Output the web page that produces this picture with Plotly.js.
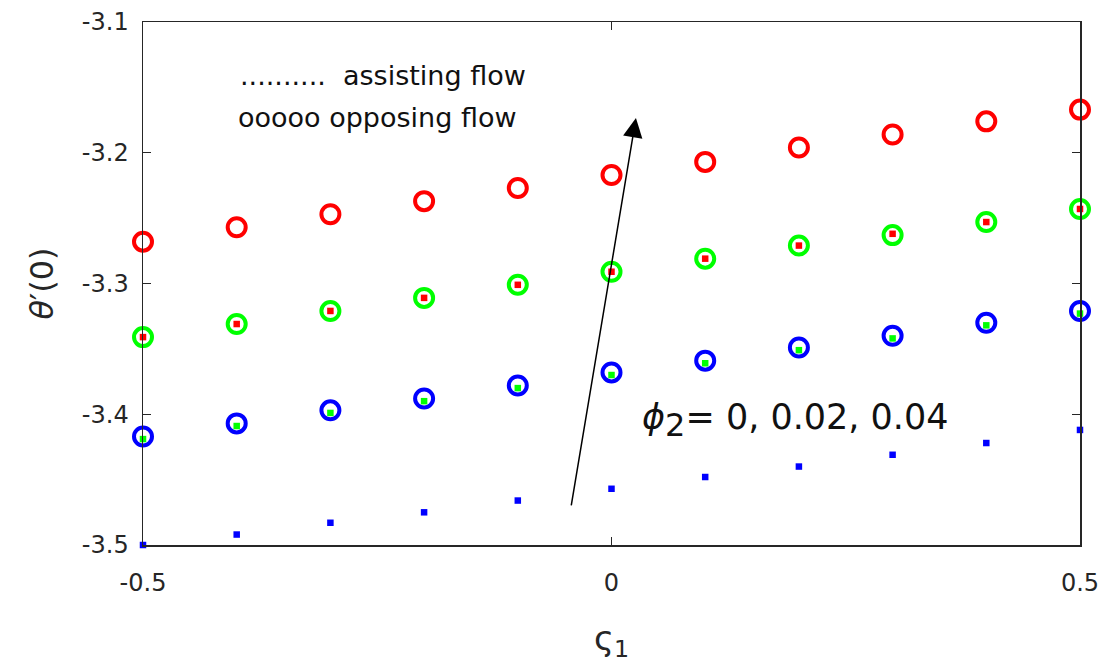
<!DOCTYPE html>
<html>
<head>
<meta charset="utf-8">
<script src="https://cdn.plot.ly/plotly-3.0.1.min.js"></script>
<style>html,body{margin:0;padding:0;background:#fff;}</style>
</head>
<body>
<div id="chart" style="width:1109px;height:668px;"></div>
<script>
// varsigma_1 values
const xVals = [-0.5, -0.4, -0.3, -0.2, -0.1, 0, 0.1, 0.2, 0.3, 0.4, 0.5];

// Opposing flow (circles)
const opposingRed   = [-3.268, -3.257, -3.247, -3.237, -3.227, -3.217, -3.207, -3.196, -3.186, -3.176, -3.167];
const opposingGreen = [-3.341, -3.331, -3.321, -3.311, -3.301, -3.291, -3.281, -3.271, -3.263, -3.253, -3.243];
const opposingBlue  = [-3.417, -3.407, -3.397, -3.388, -3.378, -3.368, -3.359, -3.349, -3.340, -3.330, -3.321];

// Assisting flow (dots)
const assistingRed   = [-3.341, -3.331, -3.321, -3.311, -3.301, -3.291, -3.281, -3.271, -3.262, -3.253, -3.243];
const assistingGreen = [-3.419, -3.409, -3.399, -3.390, -3.380, -3.370, -3.361, -3.351, -3.342, -3.332, -3.323];
const assistingBlue  = [-3.500, -3.492, -3.483, -3.475, -3.466, -3.457, -3.448, -3.440, -3.431, -3.422, -3.412];

const yTickVals = [-3.5, -3.4, -3.3, -3.2, -3.1];
const yTickText = ['-3.5', '-3.4', '-3.3', '-3.2', '-3.1'];
const xTickVals = [-0.5, 0, 0.5];
const xTickText = ['-0.5', '0', '0.5'];

const FONT = 'DejaVu Sans, Arial, sans-serif';

function circles(y, color) {
  return {x: xVals, y: y, mode: 'markers', type: 'scatter', cliponaxis: false, showlegend: false,
    marker: {symbol: 'circle-open', size: 18, color: color, line: {width: 4, color: color}}};
}
function dots(y, color) {
  return {x: xVals, y: y, mode: 'markers', type: 'scatter', cliponaxis: false, showlegend: false,
    marker: {symbol: 'square', size: 6.5, color: color, line: {width: 0}}};
}

const data = [
  circles(opposingBlue, '#0000ff'),
  circles(opposingGreen, '#00ff00'),
  circles(opposingRed, '#ff0000'),
  dots(assistingBlue, '#0000ff'),
  dots(assistingGreen, '#00ff00'),
  dots(assistingRed, '#ff0000')
];

const axisCommon = {
  showgrid: false, zeroline: false, showline: true, linecolor: '#262626', linewidth: 1.5,
  mirror: 'ticks', ticks: 'inside', ticklen: 8, tickwidth: 1.2, tickcolor: '#262626',
  tickfont: {family: FONT, size: 24, color: '#262626'}
};

const layout = {
  width: 1109, height: 668,
  margin: {l: 143, r: 29, t: 22, b: 123},
  paper_bgcolor: '#ffffff', plot_bgcolor: '#ffffff',
  xaxis: Object.assign({}, axisCommon, {
    range: [-0.5, 0.5], tickvals: xTickVals, ticktext: xTickText, ticklabelstandoff: 16,
    title: {text: 'ς<sub>1</sub>', font: {family: FONT, size: 34, color: '#262626'}, standoff: 30}
  }),
  yaxis: Object.assign({}, axisCommon, {
    range: [-3.5, -3.1], tickvals: yTickVals, ticktext: yTickText, ticklabelstandoff: 8,
    title: {text: '<i>θ</i>′(0)', font: {family: FONT, size: 32, color: '#262626'}, standoff: 18}
  }),
  annotations: [
    {xref: 'paper', yref: 'paper', x: 0.101, y: 0.898, xanchor: 'left', yanchor: 'middle', showarrow: false,
     text: '..........  assisting flow', font: {family: FONT, size: 27, color: '#111'}},
    {xref: 'paper', yref: 'paper', x: 0.099, y: 0.818, xanchor: 'left', yanchor: 'middle', showarrow: false,
     text: 'ooooo opposing flow', font: {family: FONT, size: 27, color: '#111'}},
    {xref: 'x', yref: 'y', x: 0.0261, y: -3.1734, ax: -0.0432, ay: -3.4709, axref: 'x', ayref: 'y',
     showarrow: true, arrowhead: 2, arrowsize: 2.6, arrowwidth: 1.5, arrowcolor: '#000', text: ''},
    {xref: 'x', yref: 'y', x: 0.03, y: -3.405, xanchor: 'left', yanchor: 'middle', showarrow: false,
     text: '<i>ϕ</i><sub><span style="font-size:32px">2</span></sub>= 0, 0.02, 0.04',
     font: {family: FONT, size: 35, color: '#111'}}
  ]
};

Plotly.newPlot('chart', data, layout, {displayModeBar: false, staticPlot: true});
</script>
</body>
</html>
